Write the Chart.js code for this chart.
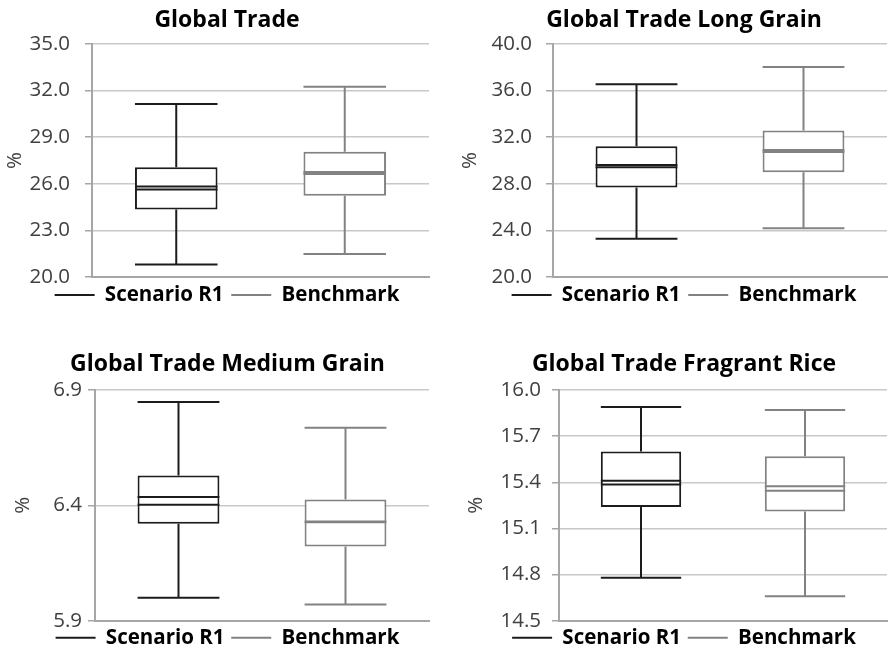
<!DOCTYPE html>
<html>
<head>
<meta charset="utf-8">
<script src="https://cdn.jsdelivr.net/npm/chart.js@4.4.1/dist/chart.umd.min.js"></script>
<style>
  html, body { margin: 0; padding: 0; background: #fff; overflow: hidden; }
  canvas { position: absolute; }
</style>
</head>
<body>
<canvas id="c0" width="445" height="320" style="left:0;top:0"></canvas>
<canvas id="c1" width="444" height="320" style="left:445px;top:0"></canvas>
<canvas id="c2" width="445" height="338" style="left:0;top:320px"></canvas>
<canvas id="c3" width="444" height="338" style="left:445px;top:320px"></canvas>
<script>
Chart.defaults.font.family = "'Open Sans', sans-serif";

const series = ["Scenario R1", "Benchmark"];
const seriesColors = ["#1c1c1c", "#828282"];
const titles = ["Global Trade", "Global Trade Long Grain", "Global Trade Medium Grain", "Global Trade Fragrant Rice"];
const yTicks = [
  [20, 23, 26, 29, 32, 35],
  [20, 24, 28, 32, 36, 40],
  [5.9, 6.4, 6.9],
  [14.5, 14.8, 15.1, 15.4, 15.7, 16.0],
];
// one pair [Scenario R1, Benchmark] per panel
const lowWhisker = [[20.81, 21.48], [23.28, 24.19], [6.00, 5.97], [14.78, 14.66]];
const q1 = [[24.35, 25.23], [27.69, 29.0], [6.32, 6.222], [15.24, 15.21]];
const median = [[25.82, 26.76], [29.61, 30.91], [6.436, 6.33], [15.41, 15.375]];
const mean = [[25.63, 26.63], [29.43, 30.74], [6.403, 6.327], [15.385, 15.345]];
const q3 = [[27.06, 28.07], [31.23, 32.57], [6.53, 6.425], [15.60, 15.57]];
const highWhisker = [[31.14, 32.25], [36.55, 38.03], [6.848, 6.736], [15.89, 15.87]];

// layout of each panel (padding, axis width, label gaps)
const panels = [
  { padL: 25, padR: 16, padB: 4.75, titleTop: 7, titleBottom: 9.4, axisW: 67, tickPad: 15, pctPad: -22.3, legendPad: 7.75 },
  { padL: 36, padR: 2, padB: 4.75, titleTop: 7, titleBottom: 9.4, axisW: 72, tickPad: 14, pctPad: -22.8, legendPad: 7.75 },
  { padL: 26, padR: 16, padB: 0, titleTop: 31, titleBottom: 11.4, axisW: 69, tickPad: 6, pctPad: -15.3, legendPad: 6.75 },
  { padL: 36, padR: 2, padB: 0, titleTop: 31, titleBottom: 11.4, axisW: 78, tickPad: 11, pctPad: -17.3, legendPad: 6.75 },
];

function boxPlot(i) {
  return {
    id: "boxPlot" + i,
    afterDatasetsDraw(chart) {
      const { ctx, scales: { y } } = chart;
      const py = (v) => y.getPixelForValue(v);
      series.forEach((s, j) => {
        const bar = chart.getDatasetMeta(j).data[j];
        const x = bar.x, half = bar.width / 2;
        ctx.save();
        ctx.strokeStyle = seriesColors[j];
        ctx.lineWidth = 2;
        ctx.beginPath();
        ctx.moveTo(x, py(q3[i][j]));
        ctx.lineTo(x, py(highWhisker[i][j]));
        ctx.moveTo(x - half, py(highWhisker[i][j]));
        ctx.lineTo(x + half, py(highWhisker[i][j]));
        ctx.moveTo(x, py(q1[i][j]));
        ctx.lineTo(x, py(lowWhisker[i][j]));
        ctx.moveTo(x - half, py(lowWhisker[i][j]));
        ctx.lineTo(x + half, py(lowWhisker[i][j]));
        ctx.moveTo(x - half, py(median[i][j]));
        ctx.lineTo(x + half, py(median[i][j]));
        ctx.moveTo(x - half, py(mean[i][j]));
        ctx.lineTo(x + half, py(mean[i][j]));
        ctx.stroke();
        ctx.restore();
      });
    },
  };
}

titles.forEach((title, i) => {
  const p = panels[i];
  new Chart(document.getElementById("c" + i), {
    type: "bar",
    data: {
      labels: series,
      datasets: series.map((s, j) => ({
        label: s,
        data: series.map((_, k) => (k === j ? [q1[i][j], q3[i][j]] : null)),
        backgroundColor: "#fff",
        borderColor: seriesColors[j],
        borderWidth: 2,
        borderSkipped: false,
        grouped: false,
        categoryPercentage: 1,
        barPercentage: 0.49,
      })),
    },
    options: {
      responsive: false,
      animation: false,
      layout: { padding: { left: p.padL, right: p.padR, top: 0, bottom: p.padB } },
      plugins: {
        tooltip: { enabled: false },
        title: {
          display: true,
          text: title,
          color: "#000",
          font: { size: 23, weight: "bold" },
          padding: { top: p.titleTop, bottom: p.titleBottom },
        },
        legend: {
          position: "bottom",
          labels: {
            usePointStyle: true,
            pointStyleWidth: 40,
            padding: p.legendPad,
            color: "#000",
            font: { size: 20.5, weight: "bold" },
            generateLabels: () =>
              series.map((s, j) => ({
                text: s,
                strokeStyle: seriesColors[j],
                fillStyle: seriesColors[j],
                lineWidth: 2,
                pointStyle: "line",
                hidden: false,
                datasetIndex: j,
              })),
          },
        },
      },
      scales: {
        x: {
          grid: { display: false, drawTicks: false },
          ticks: { display: false },
          border: { color: "#a6a6a6", width: 2 },
        },
        y: {
          min: yTicks[i][0],
          max: yTicks[i][yTicks[i].length - 1],
          afterBuildTicks: (ax) => { ax.ticks = yTicks[i].map((v) => ({ value: v })); },
          afterFit: (ax) => { ax.width = p.axisW; },
          ticks: {
            callback: (v) => Number(v).toFixed(1),
            color: "#404040",
            font: { size: 20.5 },
            padding: p.tickPad,
          },
          grid: { color: "#c8c8c8", lineWidth: 1.5, tickLength: 7, tickColor: "#a6a6a6" },
          border: { color: "#a6a6a6", width: 2 },
          title: {
            display: true,
            text: "%",
            color: "#404040",
            font: { size: 20.5 },
            padding: { top: p.pctPad, bottom: 0 },
          },
        },
      },
    },
    plugins: [boxPlot(i)],
  });
});
</script>
</body>
</html>
